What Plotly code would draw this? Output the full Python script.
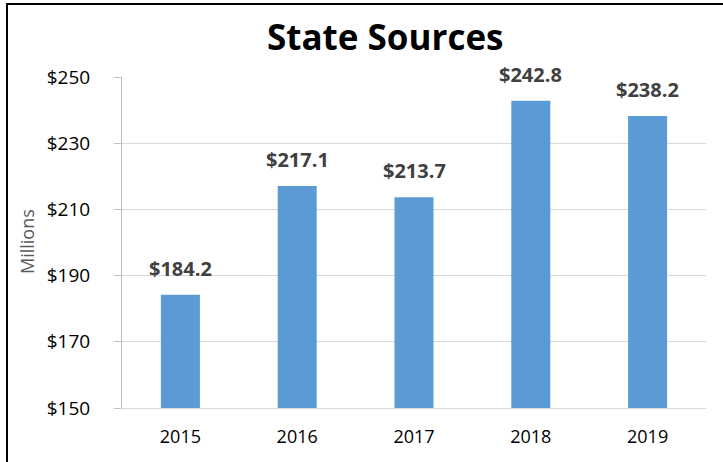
import plotly.graph_objects as go

years = ["2015", "2016", "2017", "2018", "2019"]
values = [184.2, 217.1, 213.7, 242.8, 238.2]
labels = ["$184.2", "$217.1", "$213.7", "$242.8", "$238.2"]
y_ticks = [150, 170, 190, 210, 230, 250]
y_tick_text = ["$150", "$170", "$190", "$210", "$230", "$250"]

FONT = "Open Sans, Calibri, Carlito, sans-serif"
W, H = 723, 462
L, R, T, B = 122, 17, 77, 54
pw, ph = W - L - R, H - T - B

fig = go.Figure()
fig.add_trace(go.Bar(x=years, y=values, marker=dict(color="#5B9BD5", line=dict(width=0)),
                     hoverinfo="skip"))

for i, (v, lab) in enumerate(zip(values, labels)):
    fig.add_annotation(x=i, y=v, xref="x", yref="y", text="<b>%s</b>" % lab, showarrow=False,
                       yanchor="bottom", yshift=11,
                       font=dict(family=FONT, size=20, color="#404040"))

fig.add_annotation(xref="paper", yref="paper", x=(385 - L) / pw, y=(H - 36 - B) / ph,
                   text="<b>State Sources</b>", showarrow=False,
                   xanchor="center", yanchor="middle",
                   font=dict(family=FONT, size=35, color="#000000"))

fig.add_annotation(xref="paper", yref="paper", x=(27 - L) / pw, y=(H - 242 - B) / ph,
                   text="Millions", showarrow=False, textangle=-90,
                   xanchor="center", yanchor="middle",
                   font=dict(family=FONT, size=18, color="#595959"))

# outer border (cut off on right/bottom like the reference)
fig.add_shape(type="rect", xref="paper", yref="paper",
              x0=(7 - L) / pw, x1=1.5, y0=-0.5, y1=(H - 4 - B) / ph,
              line=dict(color="#000000", width=2), fillcolor="rgba(0,0,0,0)", layer="above")

fig.update_layout(
    width=W, height=H,
    margin=dict(l=L, r=R, t=T, b=B, pad=0, autoexpand=False),
    paper_bgcolor="white", plot_bgcolor="white",
    bargap=0.666, showlegend=False,
    font=dict(family=FONT, size=18, color="#000000"),
    xaxis=dict(type="category", range=[-0.5, len(years) - 0.5], automargin=False,
               showgrid=False, showline=True, linecolor="#d9d9d9", linewidth=1,
               ticks="", tickfont=dict(family=FONT, size=18, color="#000000"),
               ticklabelstandoff=12),
    yaxis=dict(range=[150, 250], tickvals=y_ticks, ticktext=y_tick_text, automargin=False,
               showgrid=True, gridcolor="#d9d9d9", gridwidth=1,
               showline=True, linecolor="#bfbfbf", linewidth=1,
               ticks="outside", ticklen=7, tickcolor="#bfbfbf",
               zeroline=False, ticklabelstandoff=20,
               tickfont=dict(family=FONT, size=19, color="#000000")),
)

fig.write_html("out.html", config={"displayModeBar": False, "staticPlot": True},
               post_script=("document.documentElement.style.margin='0';"
                            "document.documentElement.style.overflow='hidden';"
                            "document.body.style.margin='0';"
                            "document.body.style.overflow='hidden';"))
